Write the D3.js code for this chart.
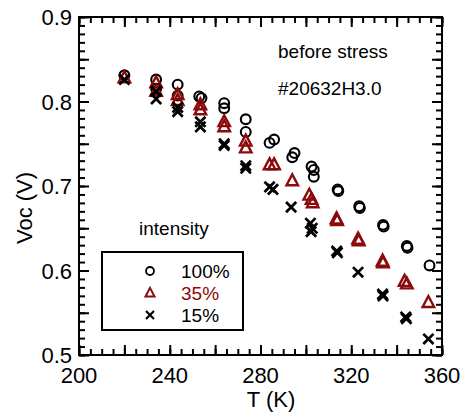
<!DOCTYPE html>
<html><head><meta charset="utf-8">
<script src="https://cdn.jsdelivr.net/npm/d3@7"></script>
<style>body{margin:0;background:#fff}svg{display:block}text{font-family:"Liberation Sans",Arial,Helvetica,sans-serif}</style>
</head><body>
<script>
// ---- data ----
const t100 = [220, 234, 234, 243.5, 243.5, 253, 254, 264, 264, 273.5, 273.5, 284, 286, 294, 295, 302.5, 303.5, 303.5, 314, 314.3, 323.5, 323.8, 334, 334.3, 344.5, 344.8, 354.5];
const v100 = [0.831, 0.826, 0.815, 0.820, 0.807, 0.806, 0.804, 0.798, 0.792, 0.779, 0.764, 0.751, 0.755, 0.734, 0.739, 0.723, 0.719, 0.711, 0.696, 0.694, 0.676, 0.674, 0.654, 0.652, 0.629, 0.627, 0.606];
const t35 = [220, 234, 234, 243.5, 243.5, 253.5, 253.5, 264, 264, 273.5, 273.5, 284, 286, 294, 301.5, 302.5, 303, 313.5, 313.8, 323, 323.3, 333.8, 334, 343.5, 344.5, 354];
const v35 = [0.828, 0.822, 0.812, 0.808, 0.801, 0.796, 0.790, 0.776, 0.770, 0.753, 0.745, 0.725, 0.725, 0.706, 0.689, 0.684, 0.680, 0.661, 0.659, 0.637, 0.635, 0.611, 0.609, 0.587, 0.584, 0.562];
const t15 = [220, 234, 234, 243.5, 243.5, 253.5, 253.5, 264, 264, 273.5, 273.5, 284, 285.5, 293.5, 302, 302.8, 302.3, 313.6, 313.9, 323, 333.8, 334, 344, 344.3, 354];
const v15 = [0.826, 0.812, 0.803, 0.793, 0.788, 0.776, 0.770, 0.750, 0.748, 0.724, 0.721, 0.699, 0.696, 0.675, 0.656, 0.650, 0.646, 0.623, 0.621, 0.598, 0.572, 0.570, 0.545, 0.543, 0.519];
const xTickLabels = [200, 240, 280, 320, 360];
const yTickLabels = [0.5, 0.6, 0.7, 0.8, 0.9];
const legendLabels = ["100%", "35%", "15%"];
const red = "#8b0a0a";

const W = 463, H = 417;
const L = 79, R = 442, T = 17, B = 355;
const svg = d3.select("body").append("svg").attr("width", W).attr("height", H);
const x = d3.scaleLinear().domain([200, 360]).range([L, R]);
const y = d3.scaleLinear().domain([0.5, 0.9]).range([B, T]);

const majX = d3.range(200, 361, 20), minX = d3.range(200, 361, 5);
const majY = d3.range(0.5, 0.9001, 0.05), minY = d3.range(0.5, 0.9001, 0.01);
const MJ = 10, MN = 6;
function axisG(axis, tr) {
  const g = svg.append("g").attr("transform", tr).call(axis);
  g.select(".domain").remove();
  g.selectAll("line").attr("stroke", "#000").attr("stroke-width", 2);
  g.selectAll("text").remove();
  return g;
}
[[MN, minX, minY], [MJ, majX, majY]].forEach(([len, tx, ty]) => {
  axisG(d3.axisBottom(x).tickValues(tx).tickSize(-len), `translate(0,${B})`);
  axisG(d3.axisTop(x).tickValues(tx).tickSize(-len), `translate(0,${T})`);
  axisG(d3.axisLeft(y).tickValues(ty).tickSize(-len), `translate(${L},0)`);
  axisG(d3.axisRight(y).tickValues(ty).tickSize(-len), `translate(${R},0)`);
});
svg.append("rect").attr("x", L).attr("y", T).attr("width", R - L).attr("height", B - T)
  .attr("fill", "none").attr("stroke", "#000").attr("stroke-width", 2);

// tick labels
svg.append("g").selectAll("text").data(xTickLabels).join("text")
  .attr("x", d => x(d)).attr("y", 383).attr("text-anchor", "middle")
  .attr("font-size", 22).text(d => d);
svg.append("g").selectAll("text").data(yTickLabels).join("text")
  .attr("x", 72).attr("y", d => y(d) + 8).attr("text-anchor", "end")
  .attr("font-size", 22).text(d => d3.format(".1f")(d));

// titles
svg.append("text").attr("x", 271).attr("y", 407).attr("text-anchor", "middle").attr("font-size", 22).text("T (K)");
svg.append("text").attr("transform", "translate(32,208) rotate(-90)").attr("text-anchor", "middle").attr("font-size", 22).text("Voc (V)");
svg.append("text").attr("x", 278).attr("y", 58).attr("font-size", 19).text("before stress");
svg.append("text").attr("x", 278).attr("y", 95).attr("font-size", 19).text("#20632H3.0");
svg.append("text").attr("x", 139).attr("y", 235).attr("font-size", 19).text("intensity");

// markers
function circ(g, cx, cy, r, sw) {
  g.append("circle").attr("cx", cx).attr("cy", cy).attr("r", r).attr("fill", "none").attr("stroke", "#000").attr("stroke-width", sw);
}
function tri(g, cx, cy, s, sw) {
  const h = s * 0.95;
  g.append("path").attr("d", `M${cx},${cy - h * 0.6}L${cx + s / 2},${cy + h * 0.4}L${cx - s / 2},${cy + h * 0.4}Z`)
    .attr("fill", "none").attr("stroke", red).attr("stroke-width", sw).attr("stroke-linejoin", "miter");
}
function cross(g, cx, cy, s, sw) {
  g.append("path").attr("d", `M${cx - s},${cy - s}L${cx + s},${cy + s}M${cx - s},${cy + s}L${cx + s},${cy - s}`)
    .attr("stroke", "#000").attr("stroke-width", sw).attr("fill", "none");
}
const gp = svg.append("g");
t100.forEach((t, i) => circ(gp, x(t), y(v100[i]), 4.9, 2.1));
t35.forEach((t, i) => tri(gp, x(t), y(v35[i]), 11.5, 2.4));
t15.forEach((t, i) => cross(gp, x(t), y(v15[i]), 5.1, 2.7));

// legend
svg.append("rect").attr("x", 102).attr("y", 252).attr("width", 141).attr("height", 78)
  .attr("fill", "none").attr("stroke", "#000").attr("stroke-width", 2);
const lg = svg.append("g");
const rows = [271, 293, 315];
circ(lg, 150, rows[0], 4, 1.8);
tri(lg, 150, rows[1], 9, 2);
cross(lg, 150, rows[2], 4, 2.2);
lg.selectAll("text").data(legendLabels).join("text")
  .attr("x", 181).attr("y", (d, i) => rows[i] + 7).attr("font-size", 19)
  .attr("fill", (d, i) => i === 1 ? red : "#000").text(d => d);
</script>
</body></html>
